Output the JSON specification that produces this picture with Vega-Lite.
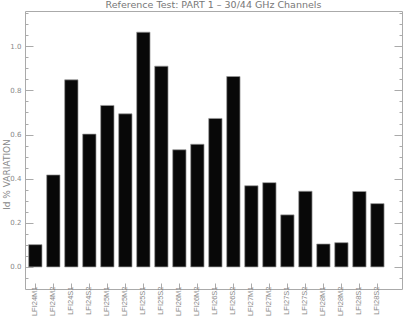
{
  "$schema": "https://vega.github.io/schema/vega-lite/v6.json",
  "autosize": {"type": "none"},
  "width": 377,
  "height": 278,
  "padding": {"left": 25, "top": 11, "right": 1, "bottom": 30},
  "background": "white",
  "config": {
    "view": {"stroke": "#aaaaaa", "strokeWidth": 1},
    "font": "DejaVu Sans",
    "axis": {"labelColor": "#888888", "titleColor": "#888888", "tickColor": "#aaaaaa", "domain": false, "grid": false, "labelFont": "DejaVu Sans", "titleFont": "DejaVu Sans", "titleFontWeight": "normal"}
  },
  "title": {"text": "Reference Test: PART 1 \u2013 30/44 GHz Channels", "fontSize": 9.5, "fontWeight": "normal", "color": "#777777", "font": "DejaVu Sans", "offset": 2, "anchor": "middle"},
  "data": {"values": [
    {"channel": "LFI24M1", "variation": 0.101},
    {"channel": "LFI24M2", "variation": 0.417},
    {"channel": "LFI24S1", "variation": 0.848},
    {"channel": "LFI24S2", "variation": 0.602},
    {"channel": "LFI25M1", "variation": 0.732},
    {"channel": "LFI25M2", "variation": 0.694},
    {"channel": "LFI25S1", "variation": 1.064},
    {"channel": "LFI25S2", "variation": 0.910},
    {"channel": "LFI26M1", "variation": 0.531},
    {"channel": "LFI26M2", "variation": 0.556},
    {"channel": "LFI26S1", "variation": 0.673},
    {"channel": "LFI26S2", "variation": 0.863},
    {"channel": "LFI27M1", "variation": 0.368},
    {"channel": "LFI27M2", "variation": 0.382},
    {"channel": "LFI27S1", "variation": 0.236},
    {"channel": "LFI27S2", "variation": 0.343},
    {"channel": "LFI28M1", "variation": 0.104},
    {"channel": "LFI28M2", "variation": 0.110},
    {"channel": "LFI28S1", "variation": 0.342},
    {"channel": "LFI28S2", "variation": 0.287}
  ]},
  "encoding": {
    "x": {"field": "channel", "type": "nominal", "sort": null,
      "scale": {"paddingInner": 0.26, "paddingOuter": 0.6, "align": 0.17},
      "axis": {"title": null, "orient": "bottom", "labelAngle": -90, "labelAlign": "right", "labelBaseline": "middle", "labelFontSize": 7.5, "tickSize": -6, "labelPadding": 3, "labelFont": "Liberation Sans"}}
  },
  "layer": [
    {
      "mark": {"type": "bar", "fill": "#080808", "stroke": "#999999", "strokeWidth": 0.7},
      "encoding": {
        "y": {"field": "variation", "type": "quantitative",
          "scale": {"domain": [-0.1, 1.16], "nice": false, "zero": false},
          "axis": {"orient": "left", "title": "Id % VARIATION", "titleFontSize": 9, "titleX": -19, "titleY": 163, "titleBaseline": "middle", "titleAlign": "center", "titleAngle": -90,
            "values": [-0.05, 0.0, 0.05, 0.1, 0.15, 0.2, 0.25, 0.3, 0.35, 0.4, 0.45, 0.5, 0.55, 0.6, 0.65, 0.7, 0.75, 0.8, 0.85, 0.9, 0.95, 1.0, 1.05, 1.1, 1.15],
            "labelExpr": "abs(round(datum.value*100)) % 20 == 0 ? format(datum.value, '.1f') : ''",
            "tickSize": {"condition": {"test": "abs(round(datum.value*100)) % 20 == 0", "value": -8}, "value": -3},
            "labelFontSize": 7, "labelPadding": 12}
        }
      }
    },
    {
      "mark": {"type": "bar", "opacity": 0},
      "encoding": {
        "y": {"field": "variation", "type": "quantitative",
          "axis": {"orient": "right", "title": null, "labels": false,
            "values": [-0.05, 0.0, 0.05, 0.1, 0.15, 0.2, 0.25, 0.3, 0.35, 0.4, 0.45, 0.5, 0.55, 0.6, 0.65, 0.7, 0.75, 0.8, 0.85, 0.9, 0.95, 1.0, 1.05, 1.1, 1.15],
            "tickSize": {"condition": {"test": "abs(round(datum.value*100)) % 20 == 0", "value": -8}, "value": -3}}
        }
      }
    }
  ],
  "resolve": {"axis": {"y": "independent"}}
}
